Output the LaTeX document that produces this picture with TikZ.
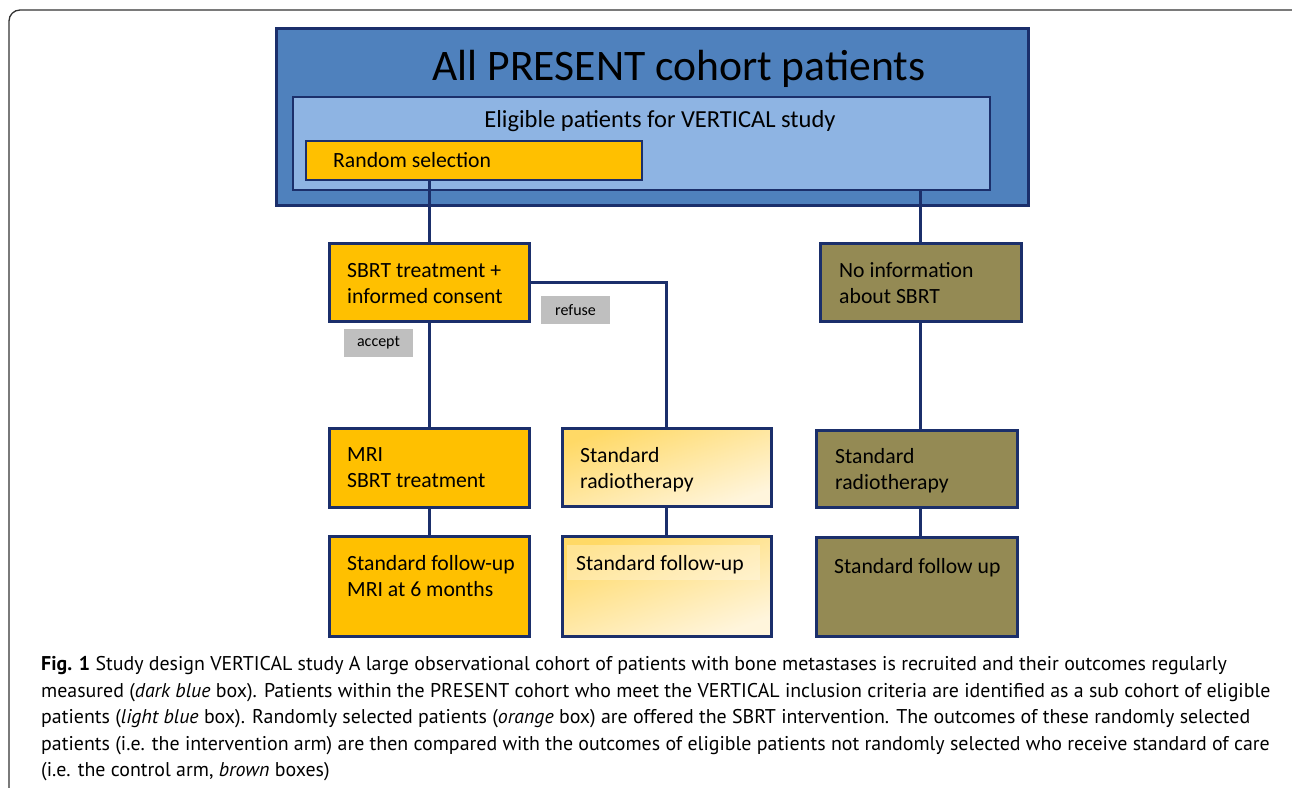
\documentclass[tikz,border=0pt]{standalone}
\usepackage{fontspec}
\setmainfont{Carlito}
\newfontfamily\capfont{PT Sans}
\definecolor{navy}{HTML}{1B2F6B}
\definecolor{dblue}{HTML}{4F81BD}
\definecolor{lblue}{HTML}{8EB4E3}
\definecolor{orng}{HTML}{FFC000}
\definecolor{olive}{HTML}{948A54}
\definecolor{gbox}{HTML}{BFBFBF}
\definecolor{gtop}{HTML}{FFD966}
\definecolor{gbot}{HTML}{FFF5DC}
\definecolor{frame}{HTML}{333333}
\tikzset{
  boxbase/.style={draw=navy, line width=3pt, rectangle, inner sep=0pt},
  obox/.style={boxbase, fill=orng},
  bbox/.style={boxbase, fill=olive},
  gradbox/.style={boxbase, shading=axis, top color=gtop, bottom color=gbot, shading angle=20},
  tagbox/.style={rectangle, fill=gbox, inner sep=0pt, minimum width=69pt, minimum height=28pt, font=\fontsize{16}{18}\selectfont},
  btext/.style={anchor=base west, inner sep=0pt, font=\fontsize{21.7}{26}\selectfont, align=left},
  conn/.style={draw=navy, line width=3pt},
  captext/.style={anchor=base west, inner sep=0pt, font=\capfont\fontsize{19.9}{22}\selectfont}
}
\begin{document}
\begin{tikzpicture}[x=1pt,y=-1pt]
\useasboundingbox (0,0) rectangle (1292,787);
\begin{scope}
\clip (0,0) rectangle (1292,787);
\draw[frame, line width=1.3pt, rounded corners=11pt] (9,820) -- (9,10) -- (1310,10) -- (1310,820);
\end{scope}
% main boxes
\node[boxbase, fill=dblue, minimum width=752pt, minimum height=177pt] (all) at (652,116.5) {};
\node[anchor=base, inner sep=0pt, font=\fontsize{43.6}{46}\selectfont] (title) at (679,80) {All PRESENT cohort patients};
\node[boxbase, fill=lblue, draw=navy, line width=2.2pt, minimum width=697pt, minimum height=93pt] (light) at (641.5,143.5) {};
\node[anchor=base, inner sep=0pt, font=\fontsize{24.5}{27}\selectfont] (eltxt) at (660,127) {Eligible patients for VERTICAL study};
\node[obox, line width=2.2pt, minimum width=336pt, minimum height=39pt] (rsel) at (474,160.5) {};
\node[btext] (rseltxt) at (333,167) {Random selection};
% left column
\node[obox, minimum width=200pt, minimum height=78pt] (sbrt) at (429,282) {};
\node[btext] (sbrttxt) at (347,303) {SBRT treatment +\\informed consent};
\node[obox, minimum width=200pt, minimum height=79pt] (mri) at (429,467.5) {};
\node[btext] (mritxt) at (347,487) {MRI\\SBRT treatment};
\node[obox, minimum width=200pt, minimum height=100pt] (fu1) at (429,586) {};
\node[btext] (fu1txt) at (347,596) {Standard follow-up\\MRI at 6 months};
% middle column
\node[gradbox, minimum width=209pt, minimum height=78pt] (stdrt) at (666.5,467) {};
\node[btext] (stdrttxt) at (580,488) {Standard\\radiotherapy};
\node[gradbox, minimum width=209pt, minimum height=100pt] (fu2) at (666.5,586) {};
\fill[white, opacity=0.3] (567,545) rectangle (760,580);
\node[btext] (fu2txt) at (576,570) {Standard follow-up};
% right column
\node[bbox, minimum width=201pt, minimum height=78pt] (noinfo) at (920.5,282) {};
\node[btext] (noinfotxt) at (839,303) {No information\\about SBRT};
\node[bbox, minimum width=201pt, minimum height=77pt] (brt) at (916.5,468.5) {};
\node[btext] (brttxt) at (835,489) {Standard\\radiotherapy};
\node[bbox, minimum width=201pt, minimum height=99pt] (bfu) at (916.5,586.5) {};
\node[btext] (bfutxt) at (834,573) {Standard follow up};
% tags
\node[tagbox] (refuse) at (575.5,310) {refuse};
\node[tagbox] (accept) at (378.5,343) {accept};
% connectors
\draw[conn] (sbrt.north |- rsel.south) -- (sbrt.north);
\draw[conn] (noinfo.north |- light.south) -- (noinfo.north);
\draw[conn] (sbrt.east) -| (stdrt.north);
\draw[conn] (sbrt.south) -- (mri.north);
\draw[conn] (mri.south) -- (fu1.north);
\draw[conn] (stdrt.south) -- (fu2.north);
\draw[conn] (noinfo.south) -- (noinfo.south |- brt.north);
\draw[conn] (noinfo.south |- brt.south) -- (noinfo.south |- bfu.north);
% caption
\node[captext] (cap1) at (41,670) {\textbf{Fig. 1} Study design VERTICAL study A large observational cohort of patients with bone metastases is recruited and their outcomes regularly};
\node[captext] (cap2) at (41,697) {measured (\textit{dark blue} box). Patients within the PRESENT cohort who meet the VERTICAL inclusion criteria are identified as a sub cohort of eligible};
\node[captext] (cap3) at (41,723) {patients (\textit{light blue} box). Randomly selected patients (\textit{orange} box) are offered the SBRT intervention. The outcomes of these randomly selected};
\node[captext] (cap4) at (41,750) {patients (i.e. the intervention arm) are then compared with the outcomes of eligible patients not randomly selected who receive standard of care};
\node[captext] (cap5) at (41,776) {(i.e. the control arm, \textit{brown} boxes)};
\end{tikzpicture}
\end{document}
